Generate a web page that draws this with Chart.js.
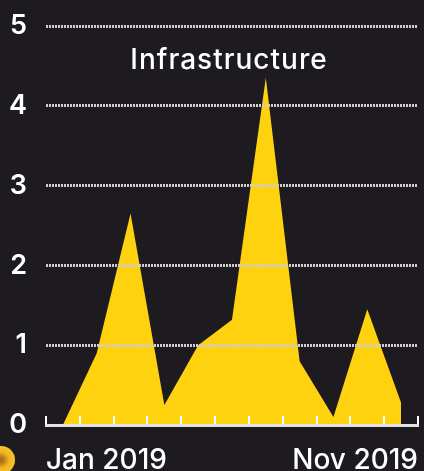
<!DOCTYPE html>
<html>
<head>
<meta charset="utf-8">
<style>
  html, body { margin: 0; padding: 0; background: #1e1b20; }
  #wrap { position: relative; width: 424px; height: 471px; overflow: hidden; }
</style>
<script src="https://cdn.jsdelivr.net/npm/chart.js@4"></script>
</head>
<body>
<div id="wrap"><canvas id="grafica"></canvas></div>
<script>
const meses = ['Jan 2019', 'Feb 2019', 'Mar 2019', 'Apr 2019', 'May 2019', 'Jun 2019', 'Jul 2019', 'Aug 2019', 'Sep 2019', 'Oct 2019', 'Nov 2019'];
const valores = [0, 0.9, 2.65, 0.25, 1.0, 1.32, 4.35, 0.8, 0.1, 1.45, 0.28];
const etiquetasEje = ['Jan 2019', 'Nov 2019'];
const titulo = 'Infrastructure';

const fuente = 'Inter, "Noto Sans", sans-serif';

// titulo dentro del area del grafico
const tituloPlugin = {
    id: 'tituloInterno',
    afterDatasetsDraw(chart) {
        const ctx = chart.ctx;
        ctx.save();
        ctx.font = '500 28px ' + fuente;
        ctx.letterSpacing = '1px';
        ctx.fillStyle = '#ffffff';
        ctx.textAlign = 'center';
        ctx.textBaseline = 'middle';
        ctx.fillText(titulo, 229, 61);
        ctx.restore();
    }
};

// mancha decorativa abajo a la izquierda
const manchaPlugin = {
    id: 'mancha',
    beforeDraw(chart) {
        const ctx = chart.ctx;
        const g = ctx.createRadialGradient(1, 460, 2, 1, 460, 14);
        g.addColorStop(0, '#a8701c');
        g.addColorStop(0.5, '#f0b41e');
        g.addColorStop(1, '#f5c62a');
        ctx.save();
        ctx.fillStyle = g;
        ctx.beginPath();
        ctx.arc(1, 460, 14, 0, Math.PI * 2);
        ctx.fill();
        ctx.restore();
    }
};

new Chart(document.getElementById('grafica'), {
    type: 'line',
    data: {
        labels: meses,
        datasets: [{
            label: titulo,
            data: valores,
            backgroundColor: '#ffd20f',
            borderWidth: 0,
            fill: 'origin',
            tension: 0,
            pointRadius: 0
        }]
    },
    options: {
        responsive: true,
        maintainAspectRatio: false,
        animation: false,
        layout: { padding: { top: 26, right: 6, left: 0, bottom: 0 } },
        plugins: { legend: { display: false }, tooltip: { enabled: false } },
        scales: {
            x: {
                type: 'category',
                offset: true,
                position: 'bottom',
                ticks: { display: false },
                grid: { display: true, offset: true, drawOnChartArea: false, color: '#ffffff', lineWidth: 2, tickLength: -9, z: 1 },
                border: { display: true, color: '#e4e2e2', width: 3, z: 2 },
                afterFit(scale) { scale.height = 2; }
            },
            x2: {
                type: 'category',
                labels: etiquetasEje,
                offset: false,
                position: 'bottom',
                ticks: {
                    align: 'inner',
                    autoSkip: false,
                    maxRotation: 0,
                    padding: 17,
                    color: '#ffffff',
                    font: { family: fuente, size: 28, weight: '500' }
                },
                grid: { display: false, drawTicks: false },
                border: { display: false },
                afterFit(scale) {
                    scale.height = 44;
                    scale.paddingLeft = 0;
                    scale.paddingRight = 0;
                }
            },
            y: {
                min: 0,
                max: 5,
                ticks: {
                    stepSize: 1,
                    padding: 19,
                    color: '#ffffff',
                    font: { family: fuente, size: 27, weight: '600' }
                },
                grid: {
                    drawTicks: false,
                    color: ctx => ctx.tick.value === 0 ? 'transparent' : '#cfcdcd',
                    lineWidth: 3,
                    z: 1
                },
                border: { display: false, dash: [2, 1] },
                afterFit(scale) {
                    scale.width = 46;
                    scale.paddingTop = 0;
                    scale.paddingBottom = 0;
                }
            }
        }
    },
    plugins: [tituloPlugin, manchaPlugin]
});
</script>
</body>
</html>
